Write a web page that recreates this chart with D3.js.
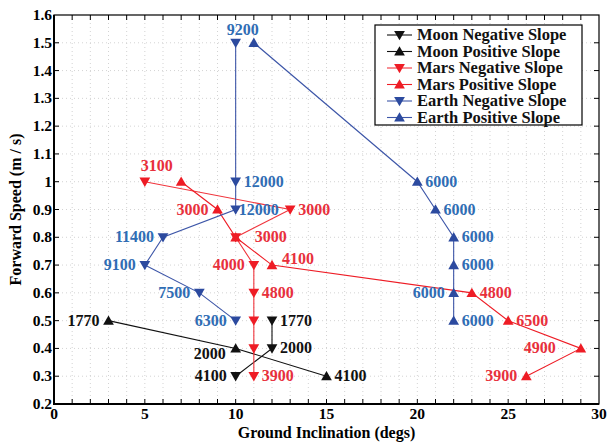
<!DOCTYPE html>
<html>
<head>
<meta charset="utf-8">
<script src="https://cdn.jsdelivr.net/npm/d3@7"></script>
<style>
  body { margin: 0; background: #fff; }
</style>
</head>
<body>
<div id="chart"></div>
<script>
(function () {
  // x = ground inclination (degs), y = forward speed (m/s), label = value shown next to point
  const moonNegX = [12, 12, 10];
  const moonNegY = [0.5, 0.4, 0.3];
  const moonNegLabels = ["1770", "2000", "4100"];
  const moonNegPlace = ["r", "r", "l"];

  const moonPosX = [3, 10, 15];
  const moonPosY = [0.5, 0.4, 0.3];
  const moonPosLabels = ["1770", "2000", "4100"];
  const moonPosPlace = ["l", "bl", "r"];

  const marsNegX = [5, 13, 10, 11, 11, 11, 11, 11];
  const marsNegY = [1.0, 0.9, 0.8, 0.7, 0.6, 0.5, 0.4, 0.3];
  const marsNegLabels = ["3100", "3000", "3000", "4000", "4800", "", "", "3900"];
  const marsNegPlace = ["tr", "r", "rr", "l", "r", "", "", "r"];

  const marsPosX = [7, 9, 10, 12, 23, 25, 29, 26];
  const marsPosY = [1.0, 0.9, 0.8, 0.7, 0.6, 0.5, 0.4, 0.3];
  const marsPosLabels = ["", "3000", "", "4100", "4800", "6500", "4900", "3900"];
  const marsPosPlace = ["", "l", "", "ru", "r", "r", "ll", "l"];

  const earthNegX = [10, 10, 10, 6, 5, 8, 10];
  const earthNegY = [1.5, 1.0, 0.9, 0.8, 0.7, 0.6, 0.5];
  const earthNegLabels = ["9200", "12000", "12000", "11400", "9100", "7500", "6300"];
  const earthNegPlace = ["t", "r", "rs", "l", "l", "l", "l"];

  const earthPosX = [11, 20, 21, 22, 22, 22, 22];
  const earthPosY = [1.5, 1.0, 0.9, 0.8, 0.7, 0.6, 0.5];
  const earthPosLabels = ["", "6000", "6000", "6000", "6000", "6000", "6000"];
  const earthPosPlace = ["", "r", "r", "r", "r", "l", "r"];

  const xTicks = [0, 5, 10, 15, 20, 25, 30];
  const yTicks = [0.2, 0.3, 0.4, 0.5, 0.6, 0.7, 0.8, 0.9, 1.0, 1.1, 1.2, 1.3, 1.4, 1.5, 1.6];
  const yTickLabels = ["0.2", "0.3", "0.4", "0.5", "0.6", "0.7", "0.8", "0.9", "1", "1.1", "1.2", "1.3", "1.4", "1.5", "1.6"];

  const series = [
    { name: "Moon Negative Slope", xs: moonNegX, ys: moonNegY, labels: moonNegLabels, place: moonNegPlace, down: true, line: "#111", mark: "#111", text: "#111" },
    { name: "Moon Positive Slope", xs: moonPosX, ys: moonPosY, labels: moonPosLabels, place: moonPosPlace, down: false, line: "#111", mark: "#111", text: "#111" },
    { name: "Mars Negative Slope", xs: marsNegX, ys: marsNegY, labels: marsNegLabels, place: marsNegPlace, down: true, line: "#f0343c", mark: "#ee1c25", text: "#e8303c" },
    { name: "Mars Positive Slope", xs: marsPosX, ys: marsPosY, labels: marsPosLabels, place: marsPosPlace, down: false, line: "#ee1c25", mark: "#ee1c25", text: "#e8303c" },
    { name: "Earth Negative Slope", xs: earthNegX, ys: earthNegY, labels: earthNegLabels, place: earthNegPlace, down: true, line: "#3d56a8", mark: "#2c4a9f", text: "#2f6db4" },
    { name: "Earth Positive Slope", xs: earthPosX, ys: earthPosY, labels: earthPosLabels, place: earthPosPlace, down: false, line: "#3d56a8", mark: "#2c4a9f", text: "#2f6db4" }
  ];

  const W = 607, H = 442;
  const m = { top: 15, right: 8, bottom: 38, left: 54 };
  const FONT = "Liberation Serif";

  const svg = d3.select("#chart").append("svg")
    .attr("width", W)
    .attr("height", H);

  // every text gets its own font attributes
  function txt(sel, size) {
    return sel.attr("font-family", FONT).attr("font-weight", "bold").attr("font-size", size);
  }

  const x = d3.scaleLinear().domain([0, 30]).range([m.left, W - m.right]);
  const y = d3.scaleLinear().domain([0.2, 1.6]).range([H - m.bottom, m.top]);

  // dotted grid
  const grid = svg.append("g").attr("stroke", "#c8c8c8").attr("stroke-width", 0.8).attr("stroke-dasharray", "1,3");
  grid.selectAll("line.gx").data(d3.range(1, 30)).join("line")
    .attr("x1", d => x(d)).attr("x2", d => x(d))
    .attr("y1", y(0.2)).attr("y2", y(1.6));
  grid.selectAll("line.gy").data(yTicks.slice(1, -1)).join("line")
    .attr("y1", d => y(d)).attr("y2", d => y(d))
    .attr("x1", x(0)).attr("x2", x(30));

  // inward ticks, bottom/top and left/right
  const tickLen = 5;
  const ticks = svg.append("g").attr("stroke", "#000").attr("stroke-width", 1);
  d3.range(1, 30).forEach(d => {
    ticks.append("line").attr("x1", x(d)).attr("x2", x(d)).attr("y1", y(0.2)).attr("y2", y(0.2) - tickLen);
    ticks.append("line").attr("x1", x(d)).attr("x2", x(d)).attr("y1", y(1.6)).attr("y2", y(1.6) + tickLen);
  });
  yTicks.slice(1, -1).forEach(d => {
    ticks.append("line").attr("y1", y(d)).attr("y2", y(d)).attr("x1", x(0)).attr("x2", x(0) + tickLen);
    ticks.append("line").attr("y1", y(d)).attr("y2", y(d)).attr("x1", x(30)).attr("x2", x(30) - tickLen);
  });

  // frame
  svg.append("rect")
    .attr("x", x(0)).attr("y", y(1.6))
    .attr("width", x(30) - x(0)).attr("height", y(0.2) - y(1.6))
    .attr("fill", "none").attr("stroke", "#000").attr("stroke-width", 1.2);
  svg.append("path")
    .attr("d", `M${x(0)},${y(1.6)}V${y(0.2)}H${x(30)}`)
    .attr("fill", "none").attr("stroke", "#000").attr("stroke-width", 2);

  // tick labels
  txt(svg.append("g").selectAll("text").data(xTicks).join("text"), 15.5)
    .attr("x", d => x(d)).attr("y", y(0.2) + 15)
    .attr("text-anchor", "middle")
    .text(d => d);
  txt(svg.append("g").selectAll("text").data(yTicks).join("text"), 15.5)
    .attr("x", x(0) - 2).attr("y", d => y(d) + 5)
    .attr("text-anchor", "end")
    .text((d, i) => yTickLabels[i]);

  // axis titles
  txt(svg.append("text"), 16)
    .attr("x", (x(0) + x(30)) / 2).attr("y", H - 4)
    .attr("text-anchor", "middle")
    .text("Ground Inclination (degs)");
  txt(svg.append("text"), 16)
    .attr("transform", `translate(21,${(y(0.2) + y(1.6)) / 2}) rotate(-90)`)
    .attr("text-anchor", "middle")
    .text("Forward Speed (m / s)");

  const tri = d3.symbol().type(d3.symbolTriangle).size(50);
  const line = d3.line().x(d => x(d[0])).y(d => y(d[1]));

  // label offsets by placement code
  const off = {
    r: [8, 5, "start"], ru: [10, -1, "start"], rr: [19, 5, "start"], rs: [3, 5, "start"], tr: [-4, -11, "start"],
    l: [-9, 5, "end"], ll: [-25, 5, "end"], bl: [-10, 11, "end"], t: [7, -8, "middle"]
  };

  series.forEach(s => {
    const pts = s.xs.map((v, i) => [v, s.ys[i]]);
    const g = svg.append("g");
    g.append("path")
      .attr("d", line(pts))
      .attr("fill", "none").attr("stroke", s.line).attr("stroke-width", 1.1);
    g.selectAll("path.mk").data(pts).join("path")
      .attr("class", "mk")
      .attr("d", tri)
      .attr("transform", d => `translate(${x(d[0])},${y(d[1]) + (s.down ? -1 : 1)}) rotate(${s.down ? 180 : 0})`)
      .attr("fill", s.mark);
    txt(g.selectAll("text").data(pts.filter((d, i) => s.labels[i])).join("text"), 16)
      .each(function (d) {
        const i = pts.indexOf(d);
        const o = off[s.place[i]];
        d3.select(this)
          .attr("x", x(d[0]) + o[0]).attr("y", y(d[1]) + o[1])
          .attr("text-anchor", o[2]);
      })
      .attr("fill", s.text)
      .text(d => s.labels[pts.indexOf(d)]);
  });

  // legend
  const lx = 375, ly = 25;
  svg.append("rect")
    .attr("x", lx).attr("y", ly).attr("width", 207).attr("height", 100)
    .attr("fill", "#fff").attr("stroke", "#000").attr("stroke-width", 1.2);
  series.forEach((s, i) => {
    const cy = ly + 10 + i * 16.5;
    svg.append("line")
      .attr("x1", lx + 12).attr("x2", lx + 37).attr("y1", cy).attr("y2", cy)
      .attr("stroke", s.line).attr("stroke-width", 1.1);
    svg.append("path")
      .attr("d", tri)
      .attr("transform", `translate(${lx + 24.5},${cy + (s.down ? -1 : 1)}) rotate(${s.down ? 180 : 0})`)
      .attr("fill", s.mark);
    txt(svg.append("text"), 16.5)
      .attr("x", lx + 42).attr("y", cy + 5)
      .attr("fill", "#111")
      .text(s.name);
  });
})();
</script>
</body>
</html>
